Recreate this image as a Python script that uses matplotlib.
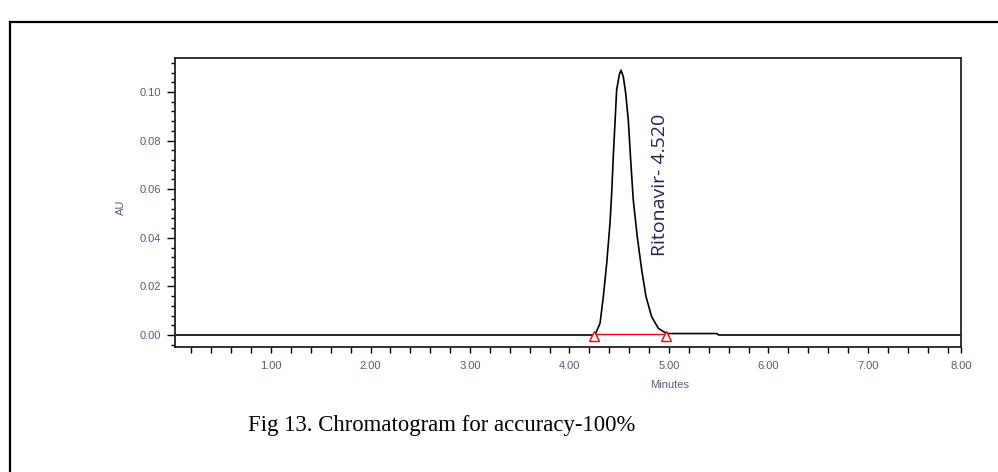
import numpy as np
import matplotlib.pyplot as plt
from matplotlib.lines import Line2D
from matplotlib.ticker import MultipleLocator, FixedLocator, FixedFormatter

# ===========================================================
#                    chromatogram trace
# ===========================================================
time_min = [0.035, 4.256, 4.307, 4.340, 4.374, 4.407, 4.424, 4.440, 4.457,
            4.474, 4.500, 4.518, 4.541, 4.565, 4.591, 4.615, 4.641, 4.681,
            4.726, 4.769, 4.826, 4.892, 4.970, 5.000, 5.480, 5.500, 7.935]
absorb_au = [0.0, 0.0, 0.0048, 0.0158, 0.0295, 0.0460, 0.0583, 0.0734,
             0.0871, 0.1008, 0.1070, 0.1090, 0.1063, 0.0995, 0.0885, 0.0720,
             0.0556, 0.0405, 0.0267, 0.0158, 0.0075, 0.0028, 0.0007, 0.0006,
             0.0006, 0.0, 0.0]

peak_name = 'Ritonavir- 4.520'
peak_start = 4.245
peak_end = 4.97

y_ticks = [0.00, 0.02, 0.04, 0.06, 0.08, 0.10]
x_ticks = [1.0, 2.0, 3.0, 4.0, 5.0, 6.0, 7.0, 7.935]
x_labels = ['1.00', '2.00', '3.00', '4.00', '5.00', '6.00', '7.00', '8.00']
caption = 'Fig 13. Chromatogram for accuracy-100%'

lab_col = '#5a5a78'

fig = plt.figure(figsize=(9.98, 4.72), dpi=100)
ax = fig.add_axes([175 / 998, 1 - 347 / 472, (961 - 175) / 998, (347 - 58) / 472])

ax.plot(time_min, absorb_au, color='black', linewidth=1.2)
# integration baseline and markers
ax.plot([peak_start, peak_end], [0.0003, 0.0003], color='red', linewidth=1.0)
ax.plot([peak_start, peak_end], [-0.0006, -0.0006], linestyle='none', marker='^',
        markersize=7, markerfacecolor='white', markeredgecolor='red',
        markeredgewidth=1.0)

ax.text(4.91, 0.0618, peak_name, rotation=90, ha='center', va='center',
        fontsize=14, family='Open Sans', color='#2a2050')

ax.set_xlim(0.035, 7.935)
ax.set_ylim(-0.00494, 0.114)

ax.xaxis.set_major_locator(FixedLocator(x_ticks))
ax.xaxis.set_major_formatter(FixedFormatter(x_labels))
ax.xaxis.set_minor_locator(MultipleLocator(0.2))
ax.yaxis.set_major_locator(FixedLocator(y_ticks))
ax.yaxis.set_minor_locator(MultipleLocator(0.004))
ax.set_yticklabels(['%.2f' % v for v in y_ticks])

ax.tick_params(axis='both', which='both', direction='out', color='black',
               labelsize=8, labelcolor=lab_col, width=1.0)
ax.tick_params(axis='x', which='major', length=4, pad=6)
ax.tick_params(axis='x', which='minor', length=4)
ax.tick_params(axis='y', which='major', length=6, pad=4)
ax.tick_params(axis='y', which='minor', length=3)
for lbl in ax.get_xticklabels() + ax.get_yticklabels():
    lbl.set_family('Liberation Sans')

for s in ax.spines.values():
    s.set_linewidth(1.3)
    s.set_color('#222222')

ax.set_xlabel('Minutes', fontsize=8, color=lab_col, family='Liberation Sans')
ax.xaxis.set_label_coords((670 - 175) / (961 - 175), -0.115)
ax.set_ylabel('AU', fontsize=8, color=lab_col, family='Liberation Sans')
ax.yaxis.set_label_coords(-0.062, 0.484)

# outer frame (top and left edges only)
fig.add_artist(Line2D([10 / 998, 1.0], [1 - 22 / 472, 1 - 22 / 472],
                      color='black', linewidth=1.6))
fig.add_artist(Line2D([10 / 998, 10 / 998], [0.0, 1 - 22 / 472],
                      color='black', linewidth=1.6))

fig.text(248 / 998, 1 - 431 / 472, caption, fontsize=16.4, family='Liberation Serif',
         color='black', ha='left', va='baseline')

fig.savefig('out.png', dpi=100)
